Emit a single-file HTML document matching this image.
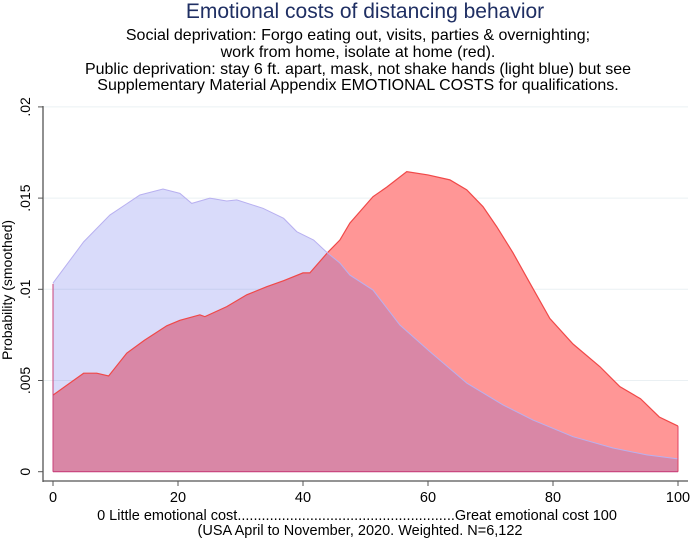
<!DOCTYPE html>
<html><head><meta charset="utf-8"><style>
body{margin:0;background:#fff;}
svg{display:block;font-family:"Liberation Sans",Arial,sans-serif;}
</style></head><body>
<svg id="chart" width="690" height="540" viewBox="0 0 690 540" xmlns="http://www.w3.org/2000/svg">
<rect width="690" height="540" fill="#fff"/>
<text x="365" y="18" text-anchor="middle" font-size="21" fill="#1f2f63">Emotional costs of distancing behavior</text>
<g font-size="16" fill="#000" text-anchor="middle">
<text x="358" y="40">Social deprivation: Forgo eating out, visits, parties &amp; overnighting;</text>
<text x="358" y="57">work from home, isolate at home (red).</text>
<text x="358" y="74">Public deprivation: stay 6 ft. apart, mask, not shake hands (light blue) but see</text>
<text x="358" y="90">Supplementary Material Appendix EMOTIONAL COSTS for qualifications.</text>
</g>
<g id="grid"></g>
<g id="areas"></g>
<g id="axes"></g>
<text transform="translate(12,290) rotate(-90)" text-anchor="middle" font-size="14" fill="#000">Probability (smoothed)</text>
<text x="357" y="520" text-anchor="middle" font-size="14.5" fill="#000">0 Little emotional cost......................................................Great emotional cost 100</text>
<text x="360" y="535" text-anchor="middle" font-size="14.5" fill="#000">(USA April to November, 2020. Weighted. N=6,122</text>
</svg>
<script>
const redX = [0,4.9,7.0,8.9,11.8,14.6,18.2,20.3,23.5,24.3,27.8,31,34.2,36.9,40,41.1,43.9,45.9,47.5,51.2,53.4,56.6,60,63.5,66.2,68.8,71,73.6,76.3,79.5,83.2,87.5,90.7,94,97,100];
const redY = [.0042,.0054,.0054,.00525,.0065,.0072,.0080,.0083,.0086,.0085,.00905,.0097,.01014,.01047,.0109,.0109,.0120,.0127,.01363,.01508,.0156,.01645,.01627,.0160,.01545,.01453,.01343,.0120,.01034,.0084,.0070,.00576,.00466,.0040,.0030,.0025];
const blueX = [0,4.9,9.1,13.9,17.6,20.3,22.2,25.1,27.8,29.4,33.6,36.9,39,41.7,43.9,45.9,47.5,51.2,55.5,60.3,66.2,72,76.8,83.2,89.6,95,100];
const blueY = [.01034,.0126,.01407,.01517,.0155,.01526,.01471,.0150,.01484,.0149,.01444,.01389,.01316,.0127,.0120,.01144,.01078,.00996,.00804,.00658,.00486,.00366,.00283,.00192,.0013,.00092,.0007];
const xTicks = [0,20,40,60,80,100];
const yTicks = [0,.005,.01,.015,.02];
const yTickLabels = ["0",".005",".01",".015",".02"];

const NS="http://www.w3.org/2000/svg";
const sx = v => 53 + v*6.25;
const sy = v => 471.7 - v/0.005*91.2;
function mk(tag, attrs, parent){const e=document.createElementNS(NS,tag);for(const k in attrs)e.setAttribute(k,attrs[k]);parent.appendChild(e);return e;}
const grid=document.getElementById('grid'), areas=document.getElementById('areas'), axes=document.getElementById('axes');
yTicks.forEach((t,i)=>{
  if(i>0){const g=mk('line',{x1:44,x2:688,y1:sy(t),y2:sy(t),stroke:'#eaf0f3','stroke-width':1},grid);
  
  }
});
function areaPath(xs,ys){let d='M'+sx(xs[0])+','+sy(0);xs.forEach((x,i)=>{d+=' L'+sx(x)+','+sy(ys[i]);});d+=' L'+sx(xs[xs.length-1])+','+sy(0)+' Z';return d;}
function linePath(xs,ys){return xs.map((x,i)=>(i?'L':'M')+sx(x)+','+sy(ys[i])).join(' ');}
const ra=mk('path',{d:areaPath(redX,redY),fill:'rgb(255,150,150)',stroke:'none'},areas);


const ba=mk('path',{d:areaPath(blueX,blueY),fill:'rgba(65,75,230,0.2)',stroke:'none'},areas);


const rl=mk('path',{d:linePath(redX,redY),fill:'none',stroke:'#f04848','stroke-width':1.2},areas);


const bl=mk('path',{d:linePath(blueX,blueY),fill:'none',stroke:'#b8b0f0','stroke-width':1},areas);


mk('line',{x1:sx(0),x2:sx(100),y1:sy(0),y2:sy(0),stroke:'#c8407a','stroke-width':1.2},areas);
mk('line',{x1:sx(0),x2:sx(0),y1:sy(0),y2:sy(.0103),stroke:'#c8407a','stroke-width':1},areas);
mk('line',{x1:sx(100),x2:sx(100),y1:sy(0),y2:sy(.0025),stroke:'#e04060','stroke-width':1},areas);
const ya=mk('line',{x1:43,x2:43,y1:106,y2:482,stroke:'#555','stroke-width':1.3},axes);


const xa=mk('line',{x1:43,x2:688,y1:481,y2:481,stroke:'#555','stroke-width':1.3},axes);


yTicks.forEach((t,i)=>{
  mk('line',{x1:38,x2:43,y1:sy(t),y2:sy(t),stroke:'#555'},axes);
  const tx=mk('text',{transform:'translate(30,'+sy(t)+') rotate(-90)','text-anchor':'middle','font-size':14,fill:'#000'},axes);
  tx.textContent=yTickLabels[i];
  
  
});
xTicks.forEach(t=>{
  mk('line',{x1:sx(t),x2:sx(t),y1:481,y2:486,stroke:'#555'},axes);
  const tx=mk('text',{x:sx(t),y:502,'text-anchor':'middle','font-size':14.5,fill:'#000'},axes);
  tx.textContent=String(t);
  
  
});
</script>
</body></html>
